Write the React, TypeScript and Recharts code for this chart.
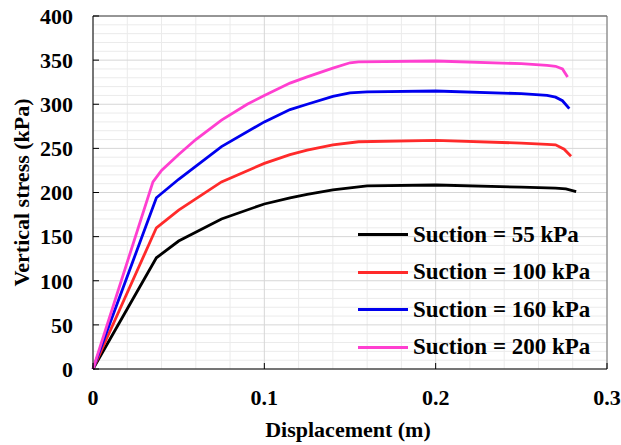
import { LineChart, Line, XAxis, YAxis, CartesianGrid, ReferenceLine } from "recharts";

// displacement (m) / vertical stress (kPa)
const s55 = [
  { x: 0, y: 0 }, { x: 0.037, y: 126 }, { x: 0.05, y: 145 }, { x: 0.075, y: 170 },
  { x: 0.1, y: 187 }, { x: 0.115, y: 194 }, { x: 0.125, y: 198 }, { x: 0.14, y: 203 },
  { x: 0.16, y: 207.5 }, { x: 0.2, y: 208.5 }, { x: 0.25, y: 206 }, { x: 0.27, y: 205 },
  { x: 0.276, y: 204 }, { x: 0.282, y: 201 },
];
const s100 = [
  { x: 0, y: 0 }, { x: 0.037, y: 160 }, { x: 0.05, y: 180 }, { x: 0.075, y: 212 },
  { x: 0.1, y: 233 }, { x: 0.115, y: 243 }, { x: 0.125, y: 248 }, { x: 0.14, y: 254 },
  { x: 0.155, y: 257.5 }, { x: 0.2, y: 259 }, { x: 0.25, y: 256 }, { x: 0.265, y: 254.5 },
  { x: 0.27, y: 254 }, { x: 0.275, y: 249 }, { x: 0.279, y: 241 },
];
const s160 = [
  { x: 0, y: 0 }, { x: 0.037, y: 194 }, { x: 0.05, y: 215 }, { x: 0.075, y: 252 },
  { x: 0.1, y: 280 }, { x: 0.115, y: 294 }, { x: 0.125, y: 300 }, { x: 0.14, y: 309 },
  { x: 0.15, y: 313 }, { x: 0.16, y: 314 }, { x: 0.2, y: 315 }, { x: 0.25, y: 312 },
  { x: 0.265, y: 310 }, { x: 0.27, y: 308 }, { x: 0.274, y: 304 }, { x: 0.278, y: 295 },
];
const s200 = [
  { x: 0, y: 0 }, { x: 0.035, y: 212 }, { x: 0.04, y: 225 }, { x: 0.05, y: 243 },
  { x: 0.06, y: 260 }, { x: 0.075, y: 282 }, { x: 0.09, y: 300 }, { x: 0.1, y: 310 },
  { x: 0.115, y: 324 }, { x: 0.125, y: 331 }, { x: 0.14, y: 341 }, { x: 0.15, y: 347 },
  { x: 0.155, y: 348 }, { x: 0.2, y: 349 }, { x: 0.25, y: 346 }, { x: 0.265, y: 344 },
  { x: 0.27, y: 343 }, { x: 0.274, y: 340 }, { x: 0.277, y: 331 },
];

const series = [
  { name: "Suction = 55 kPa", data: s55, color: "#000000" },
  { name: "Suction = 100 kPa", data: s100, color: "#ff2a2a" },
  { name: "Suction = 160 kPa", data: s160, color: "#0000ee" },
  { name: "Suction = 200 kPa", data: s200, color: "#ff3fd0" },
];

const xTicks = [0, 0.1, 0.2, 0.3];
const yTicks = [0, 50, 100, 150, 200, 250, 300, 350, 400];
const xMinor = [0.02, 0.04, 0.06, 0.08, 0.12, 0.14, 0.16, 0.18, 0.22, 0.24, 0.26, 0.28];
const yMinor = [
  10, 20, 30, 40, 60, 70, 80, 90, 110, 120, 130, 140, 160, 170, 180, 190,
  210, 220, 230, 240, 260, 270, 280, 290, 310, 320, 330, 340, 360, 370, 380, 390,
];

const font = "'Liberation Serif', 'Times New Roman', serif";
const tickStyle = { fontFamily: font, fontWeight: 700, fontSize: 22, fill: "#000" };

function LegendBox() {
  return (
    <div style={{ position: "absolute", left: 350, top: 216, fontFamily: font, fontWeight: 700, fontSize: 23, color: "#000" }}>
      {series.map((s) => (
        <div key={s.name} style={{ display: "flex", alignItems: "center", height: 37.5, whiteSpace: "nowrap" }}>
          <div style={{ width: 50, height: 3, background: s.color, marginRight: 5 }} />
          <span>{s.name}</span>
        </div>
      ))}
    </div>
  );
}

export default function App() {
  return (
    <div style={{ position: "relative", width: 613, height: 445 }}>
      <style>{"html, body { overflow: hidden; } body { margin: 0 0 0 8px; }"}</style>
      <LineChart width={613} height={445} margin={{ top: 16, right: 14, bottom: 0, left: 0 }}>
        <CartesianGrid stroke="#ebebeb" horizontalValues={yMinor} verticalValues={xMinor} />
        <CartesianGrid stroke="#d6d6d6" horizontalValues={yTicks} verticalValues={xTicks} />
        <XAxis
          type="number"
          dataKey="x"
          domain={[0, 0.3]}
          ticks={xTicks}
          interval={0}
          allowDuplicatedCategory={false}
          height={76}
          stroke="#000"
          tickSize={-6}
          tickMargin={26}
          tick={tickStyle}
          tickFormatter={(v) => String(v)}
          label={({ viewBox }: any) => (
            <text x={340} y={viewBox.y + 60} textAnchor="middle" dominantBaseline="central"
              style={{ fontFamily: font, fontWeight: 700, fontSize: 22 }}>
              Displacement (m)
            </text>
          )}
        />
        <YAxis
          type="number"
          dataKey="y"
          domain={[0, 400]}
          ticks={yTicks}
          interval={0}
          width={85}
          stroke="#000"
          tickSize={-6}
          tickMargin={26}
          tick={tickStyle}
          label={({ viewBox }: any) => {
            const cx = viewBox.x + 13;
            const cy = viewBox.y + viewBox.height / 2;
            return (
              <text x={cx} y={cy} transform={`rotate(-90, ${cx}, ${cy})`} textAnchor="middle"
                dominantBaseline="central" style={{ fontFamily: font, fontWeight: 700, fontSize: 22 }}>
                Vertical stress (kPa)
              </text>
            );
          }}
        />
        <ReferenceLine y={400} stroke="#404040" />
        <ReferenceLine x={0.3} stroke="#707070" />
        {series.map((s) => (
          <Line
            key={s.name}
            data={s.data}
            dataKey="y"
            name={s.name}
            type="linear"
            stroke={s.color}
            strokeWidth={2.8}
            dot={false}
            isAnimationActive={false}
          />
        ))}
      </LineChart>
      <LegendBox />
    </div>
  );
}
